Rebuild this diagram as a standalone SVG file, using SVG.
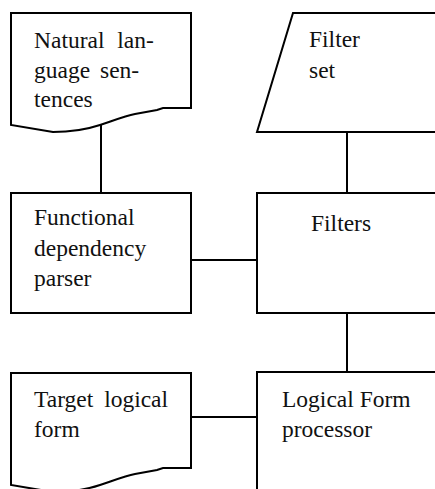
<svg xmlns="http://www.w3.org/2000/svg" width="435" height="489" viewBox="0 0 435 489">
  <style>
    .shape { fill: #ffffff; stroke: #000000; stroke-width: 2; stroke-linejoin: miter; }
    .link { fill: none; stroke: #000000; stroke-width: 2; }
    .label { font-family: 'Liberation Serif', 'Times New Roman', serif; font-size: 23.5px; fill: #111111; }
  </style>
  <defs>
    <!-- document shape with a torn/wavy lower edge -->
    <path id="doc" d="M11,13 H191 V108 H163 L157,110 L135,114 C125,116 115,120 100,125 C85,130 70,132 53,132 L11,125 Z"/>
  </defs>

  <rect width="435" height="489" fill="#ffffff"/>

  <g id="connectors">
    <line class="link" x1="101" y1="124" x2="101" y2="193"/>
    <line class="link" x1="347" y1="132" x2="347" y2="193"/>
    <line class="link" x1="191" y1="260" x2="257" y2="260"/>
    <line class="link" x1="347" y1="313" x2="347" y2="372"/>
    <line class="link" x1="191" y1="417" x2="257" y2="417"/>
  </g>

  <g id="natural-language-sentences">
    <use href="#doc" class="shape"/>
    <text class="label" x="34" y="48" word-spacing="7">Natural lan-</text>
    <text class="label" x="34" y="77.5" word-spacing="4">guage sen-</text>
    <text class="label" x="34" y="107">tences</text>
  </g>

  <g id="filter-set">
    <polygon class="shape" points="293,13 470,13 437,132 257,132"/>
    <text class="label" x="309" y="47">Filter</text>
    <text class="label" x="309" y="78">set</text>
  </g>

  <g id="functional-dependency-parser">
    <rect class="shape" x="11" y="193" width="180" height="120"/>
    <text class="label" x="34" y="225">Functional</text>
    <text class="label" x="34" y="256">dependency</text>
    <text class="label" x="34" y="286">parser</text>
  </g>

  <g id="filters">
    <rect class="shape" x="257" y="193" width="210" height="120"/>
    <text class="label" x="311" y="231">Filters</text>
  </g>

  <g id="target-logical-form">
    <use href="#doc" class="shape" transform="translate(0,360)"/>
    <text class="label" x="34" y="407" word-spacing="5">Target logical</text>
    <text class="label" x="34" y="437">form</text>
  </g>

  <g id="logical-form-processor">
    <rect class="shape" x="257" y="372" width="210" height="140"/>
    <text class="label" x="282" y="407">Logical Form</text>
    <text class="label" x="282" y="437">processor</text>
  </g>
</svg>
